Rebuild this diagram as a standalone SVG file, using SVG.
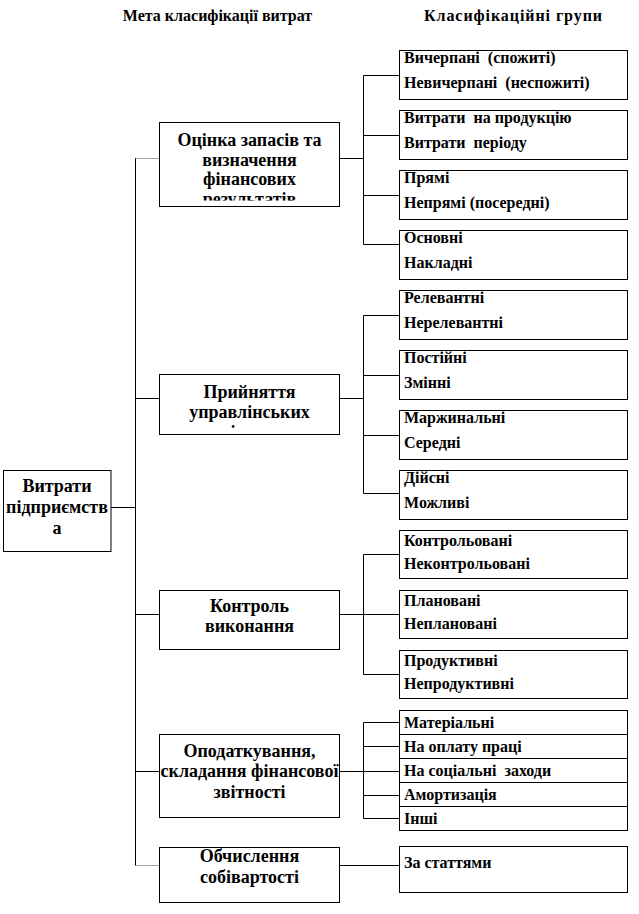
<svg xmlns="http://www.w3.org/2000/svg" width="639" height="914" viewBox="0 0 639 914">
<style>
  rect.b { fill: #fff; stroke: #000; stroke-width: 1; }
  text { font-family: "Liberation Serif", "Times New Roman", serif; font-weight: bold; fill: #000; white-space: pre; }
  .h { font-size: 16px; text-anchor: middle; }
  .m { font-size: 18px; text-anchor: middle; }
  .r { font-size: 16px; }
  .c line { stroke: #000; stroke-width: 1; }
  .c line.d { stroke: #444; stroke-dasharray: 1 1; }
</style>
<defs>
  <clipPath id="clip1"><rect x="160" y="123" width="179" height="77.5"/></clipPath>
  <clipPath id="clip2"><rect x="160" y="375" width="179" height="54"/></clipPath>
</defs>
<rect width="639" height="914" fill="#fff"/>

<g id="headers">
  <text class="h" x="217.5" y="21">Мета класифікації витрат</text>
  <text class="h" x="513" y="21" textLength="178" lengthAdjust="spacing">Класифікаційні групи</text>
</g>

<g id="connectors" class="c">
  <line x1="111" y1="507.5" x2="135.5" y2="507.5"/>
  <line x1="135.5" y1="158" x2="135.5" y2="865.5"/>
  <line class="d" x1="135.5" y1="158.5" x2="159.5" y2="158.5"/>
  <line x1="135.5" y1="398.5" x2="159.5" y2="398.5"/>
  <line x1="135.5" y1="614.5" x2="159.5" y2="614.5"/>
  <line x1="135.5" y1="771.5" x2="159.5" y2="771.5"/>
  <line class="d" x1="135.5" y1="865.5" x2="159.5" y2="865.5"/>

  <line x1="339.5" y1="158.5" x2="363.5" y2="158.5"/>
  <line x1="363.5" y1="75.5" x2="363.5" y2="244.5"/>
  <line x1="363.5" y1="75.5" x2="399.5" y2="75.5"/>
  <line x1="363.5" y1="135.5" x2="399.5" y2="135.5"/>
  <line x1="363.5" y1="195.5" x2="399.5" y2="195.5"/>
  <line x1="363.5" y1="244.5" x2="399.5" y2="244.5"/>

  <line x1="339.5" y1="398.5" x2="363.5" y2="398.5"/>
  <line x1="363.5" y1="315.5" x2="363.5" y2="493.5"/>
  <line x1="363.5" y1="315.5" x2="399.5" y2="315.5"/>
  <line x1="363.5" y1="375.5" x2="399.5" y2="375.5"/>
  <line x1="363.5" y1="435.5" x2="399.5" y2="435.5"/>
  <line x1="363.5" y1="493.5" x2="399.5" y2="493.5"/>

  <line x1="339.5" y1="614.5" x2="399.5" y2="614.5"/>
  <line x1="363.5" y1="554.5" x2="363.5" y2="674.5"/>
  <line x1="363.5" y1="554.5" x2="399.5" y2="554.5"/>
  <line x1="363.5" y1="674.5" x2="399.5" y2="674.5"/>

  <line x1="339.5" y1="771.5" x2="399.5" y2="771.5"/>
  <line x1="363.5" y1="722.5" x2="363.5" y2="818.5"/>
  <line x1="363.5" y1="722.5" x2="399.5" y2="722.5"/>
  <line x1="363.5" y1="746.5" x2="399.5" y2="746.5"/>
  <line x1="363.5" y1="795.5" x2="399.5" y2="795.5"/>
  <line x1="363.5" y1="818.5" x2="399.5" y2="818.5"/>

  <line x1="339.5" y1="865.5" x2="399.5" y2="865.5"/>
</g>

<g id="root">
  <rect class="b" x="3.5" y="470.5" width="107.5" height="81"/>
  <text class="m" x="57" y="491.5">Витрати</text>
  <text class="m" x="57" y="512.5">підприємств</text>
  <text class="m" x="57" y="533.5">а</text>
</g>

<g id="goal1">
  <rect class="b" x="159.5" y="122.5" width="180" height="84"/>
  <g clip-path="url(#clip1)">
    <text class="m" x="249.5" y="146">Оцінка запасів та</text>
    <text class="m" x="249.5" y="165.5">визначення</text>
    <text class="m" x="249.5" y="185">фінансових</text>
    <text class="m" x="249.5" y="205">результатів</text>
  </g>
</g>
<g id="goal2">
  <rect class="b" x="159.5" y="374.5" width="180" height="60"/>
  <g clip-path="url(#clip2)">
    <text class="m" x="249.5" y="397.5">Прийняття</text>
    <text class="m" x="249.5" y="417.5">управлінських</text>
    <text class="m" x="249.5" y="437.5">рішень</text>
  </g>
</g>
<g id="goal3">
  <rect class="b" x="159.5" y="590.5" width="180" height="59"/>
  <text class="m" x="249.5" y="612">Контроль</text>
  <text class="m" x="249.5" y="632">виконання</text>
</g>
<g id="goal4">
  <rect class="b" x="159.5" y="734.5" width="180" height="83"/>
  <text class="m" x="249.5" y="757">Оподаткування,</text>
  <text class="m" x="249.5" y="777">складання фінансової</text>
  <text class="m" x="249.5" y="798">звітності</text>
</g>
<g id="goal5">
  <rect class="b" x="159.5" y="847.5" width="180" height="55"/>
  <text class="m" x="249.5" y="862">Обчислення</text>
  <text class="m" x="249.5" y="883">собівартості</text>
</g>

<g id="g1a"><rect class="b" x="399.5" y="50.5" width="228" height="49"/>
  <text class="r" x="404" y="62.5">Вичерпані  (спожиті)</text>
  <text class="r" x="404" y="88">Невичерпані  (неспожиті)</text></g>
<g id="g1b"><rect class="b" x="399.5" y="110.5" width="228" height="49"/>
  <text class="r" x="404" y="122.5">Витрати  на продукцію</text>
  <text class="r" x="404" y="148">Витрати  періоду</text></g>
<g id="g1c"><rect class="b" x="399.5" y="170.5" width="228" height="49"/>
  <text class="r" x="404" y="182.5">Прямі</text>
  <text class="r" x="404" y="208">Непрямі (посередні)</text></g>
<g id="g1d"><rect class="b" x="399.5" y="230.5" width="228" height="49"/>
  <text class="r" x="404" y="242.5">Основні</text>
  <text class="r" x="404" y="268">Накладні</text></g>

<g id="g2a"><rect class="b" x="399.5" y="290.5" width="228" height="49"/>
  <text class="r" x="404" y="302.5">Релевантні</text>
  <text class="r" x="404" y="328">Нерелевантні</text></g>
<g id="g2b"><rect class="b" x="399.5" y="350.5" width="228" height="49"/>
  <text class="r" x="404" y="362.5">Постійні</text>
  <text class="r" x="404" y="388">Змінні</text></g>
<g id="g2c"><rect class="b" x="399.5" y="410.5" width="228" height="49"/>
  <text class="r" x="404" y="422.5">Маржинальні</text>
  <text class="r" x="404" y="448">Середні</text></g>
<g id="g2d"><rect class="b" x="399.5" y="470.5" width="228" height="49"/>
  <text class="r" x="404" y="482.5">Дійсні</text>
  <text class="r" x="404" y="508">Можливі</text></g>

<g id="g3a"><rect class="b" x="399.5" y="530.5" width="228" height="48"/>
  <text class="r" x="404" y="546">Контрольовані</text>
  <text class="r" x="404" y="569">Неконтрольовані</text></g>
<g id="g3b"><rect class="b" x="399.5" y="590.5" width="228" height="48"/>
  <text class="r" x="404" y="606">Плановані</text>
  <text class="r" x="404" y="629">Неплановані</text></g>
<g id="g3c"><rect class="b" x="399.5" y="650.5" width="228" height="48"/>
  <text class="r" x="404" y="666">Продуктивні</text>
  <text class="r" x="404" y="689">Непродуктивні</text></g>

<g id="g4a"><rect class="b" x="399.5" y="710.5" width="228" height="24"/>
  <text class="r" x="404" y="728">Матеріальні</text></g>
<g id="g4b"><rect class="b" x="399.5" y="734.5" width="228" height="24"/>
  <text class="r" x="404" y="752">На оплату праці</text></g>
<g id="g4c"><rect class="b" x="399.5" y="758.5" width="228" height="24"/>
  <text class="r" x="404" y="776">На соціальні  заходи</text></g>
<g id="g4d"><rect class="b" x="399.5" y="782.5" width="228" height="24"/>
  <text class="r" x="404" y="800">Амортизація</text></g>
<g id="g4e"><rect class="b" x="399.5" y="806.5" width="228" height="24"/>
  <text class="r" x="404" y="824">Інші</text></g>

<g id="g5a"><rect class="b" x="399.5" y="846.5" width="228" height="46"/>
  <text class="r" x="404" y="868">За статтями</text></g>
</svg>
